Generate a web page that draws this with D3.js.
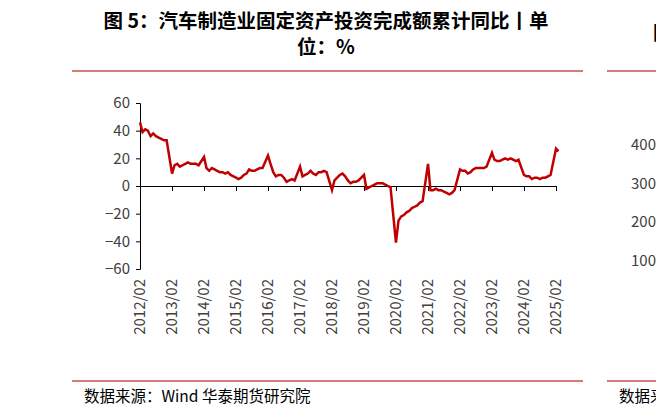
<!DOCTYPE html>
<html>
<head>
<meta charset="utf-8">
<script src="https://d3js.org/d3.v7.min.js"></script>
<style>
body { margin:0; background:#fff; }
svg text { font-family: "Noto Sans CJK SC", "Liberation Sans", sans-serif; }
</style>
</head>
<body>
<div id="chart"></div>
<script>
const width = 656, height = 415;

// monthly YoY (%), Feb..Dec each year (Jan not published), then 2025
const years = [2012,2013,2014,2015,2016,2017,2018,2019,2020,2021,2022,2023,2024];
const yearValues = [
  [46,39,41,40,36,38,36,35,34,33,33],
  [9,15,16,14,15,16,17,16,16,16,15],
  [21,13,11,13,12,11,10,10,9,10,8],
  [6,5,6,8,9,12,11,11,12,13,13],
  [22,16,10,7,8,8,6,3,4,5,4],
  [14,7,8,9,11,9,8,10,10,11,10],
  [-3,4,6,8,9,7,4,2,3,3,4],
  [8,-2,-1,0,1,2,2,2,1,0,-1],
  [-41,-25,-22,-21,-19,-18,-16,-15,-14,-12,-11],
  [16,-3,-3,-2,-3,-3,-4,-5,-6,-5,-3],
  [12,11,11,9,10,12,13,13,13,13,14],
  [24,19,18,18,19,20,19,20,19,18,19],
  [8,7,7,5,6,6,5,6,6,7,8]
];
const lastValues = [27, 25]; // 2025/02, 2025/03
const yTicks = [-60,-40,-20,0,20,40,60];
const xTickLabels = d3.range(2012, 2026).map(y => y + "/02");

const data = [];
years.forEach((y, i) => yearValues[i].forEach((v, m) => data.push({date: new Date(y, m + 1, 1), value: v})));
lastValues.forEach((v, m) => data.push({date: new Date(2025, m + 1, 1), value: v}));

const svg = d3.select("#chart").append("svg").attr("width", width).attr("height", height);

svg.append("text").attr("x", 326).attr("y", 28).attr("text-anchor", "middle")
  .attr("font-size", 19.5).attr("font-weight", "bold").attr("fill", "#000")
  .text("图 5：汽车制造业固定资产投资完成额累计同比丨单");
svg.append("text").attr("x", 326).attr("y", 54).attr("text-anchor", "middle")
  .attr("font-size", 19.5).attr("font-weight", "bold").attr("fill", "#000")
  .text("位：%");

svg.append("line").attr("x1", 72).attr("x2", 583).attr("y1", 71).attr("y2", 71).attr("stroke", "#c9514e").attr("stroke-width", 1.5);
svg.append("line").attr("x1", 72).attr("x2", 583).attr("y1", 381).attr("y2", 381).attr("stroke", "#c9514e").attr("stroke-width", 1.5);
svg.append("text").attr("x", 84).attr("y", 402).attr("font-size", 15.5).attr("fill", "#000")
  .text("数据来源：Wind  华泰期货研究院");

// neighbouring chart, cut off at the right edge
svg.append("line").attr("x1", 607).attr("x2", 656).attr("y1", 71).attr("y2", 71).attr("stroke", "#c9514e").attr("stroke-width", 1.5);
svg.append("line").attr("x1", 607).attr("x2", 656).attr("y1", 381).attr("y2", 381).attr("stroke", "#c9514e").attr("stroke-width", 1.5);
svg.append("text").attr("x", 619).attr("y", 402).attr("font-size", 15.5).text("数据来源");
svg.append("text").attr("x", 653).attr("y", 40).attr("font-size", 19.5).attr("font-weight", "bold").text("图");
["400","300","200","100"].forEach((t, i) =>
  svg.append("text").attr("x", 656).attr("y", 150 + i * 38.5).attr("font-size", 15).attr("fill", "#404040").attr("text-anchor", "end").text(t));

const x = d3.scaleTime().domain([new Date(2012, 1, 1), new Date(2025, 1, 1)]).range([140, 556]);
const y = d3.scaleLinear().domain([-60, 60]).range([269, 103]);

svg.append("g").attr("transform", "translate(140,0)")
  .call(d3.axisLeft(y).tickValues(yTicks).tickSize(4).tickPadding(6).tickFormat(d3.format("d")))
  .call(g => g.select(".domain").attr("stroke", "#000"))
  .call(g => g.selectAll("text").attr("font-size", 15).attr("fill", "#404040").attr("font-family", "Liberation Sans"));

const xAxis = svg.append("g").attr("transform", `translate(0,${y(0)})`)
  .call(d3.axisBottom(x).tickValues(xTickLabels.map(s => new Date(+s.slice(0, 4), 1, 1))).tickSize(5).tickFormat(() => ""));
xAxis.select(".domain").attr("stroke", "#000");

svg.append("g").selectAll("text").data(xTickLabels).join("text")
  .attr("transform", d => `translate(${x(new Date(+d.slice(0, 4), 1, 1)) + 5},279) rotate(-90)`)
  .attr("text-anchor", "end").attr("font-size", 15).attr("fill", "#404040")
  .attr("font-family", "Liberation Sans").text(d => d);

svg.append("path").datum(data)
  .attr("fill", "none").attr("stroke", "#c00000").attr("stroke-width", 2.5)
  .attr("d", d3.line().x(d => x(d.date)).y(d => y(d.value)));
</script>
</body>
</html>
